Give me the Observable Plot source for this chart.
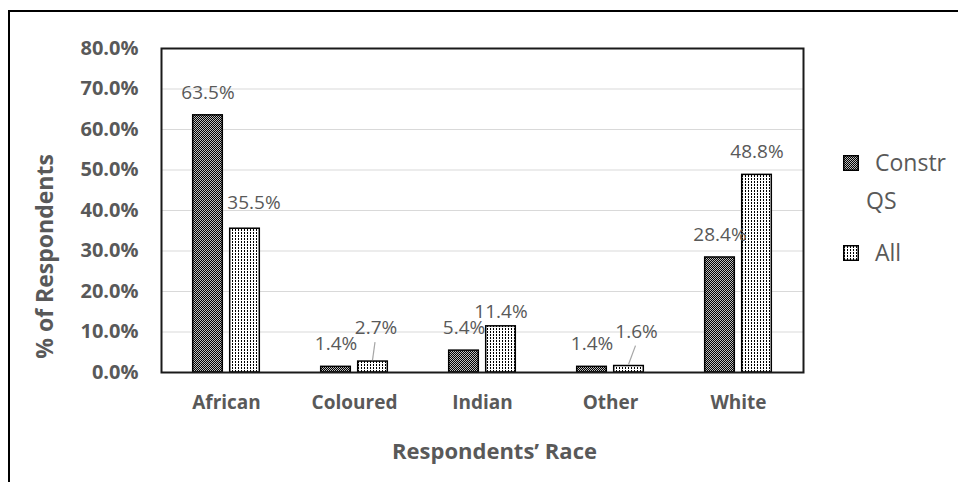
<!DOCTYPE html>
<html>
<head>
<meta charset="utf-8">
<script src="https://cdn.jsdelivr.net/npm/d3@7"></script>
<script src="https://cdn.jsdelivr.net/npm/@observablehq/plot@0.6"></script>
<style>
  html, body { margin: 0; padding: 0; background: #fff; overflow: hidden; }
  #wrap { position: relative; width: 958px; height: 482px; font-family: "Open Sans", sans-serif; }
  #border { position: absolute; left: 8px; top: 10px; width: 1000px; height: 600px; border: 2px solid #000; box-sizing: border-box; }
  #chart { position: absolute; left: 0; top: 0; }
  #legend { position: absolute; left: 843px; top: 143px; color: #595959; font-size: 23px; line-height: 38px; }
  .item { position: relative; padding-left: 23px; }
  .item svg { position: absolute; left: 0; top: 12px; }
  .item .txt { display: block; }
  #defs { position: absolute; left: 0; top: 0; width: 0; height: 0; }
</style>
</head>
<body>
<svg id="defs" width="0" height="0">
  <defs>
    <!-- fine checkerboard fill -->
    <pattern id="patConstr" patternUnits="userSpaceOnUse" width="2" height="2">
      <rect width="2" height="2" fill="#000"/>
      <rect x="0" y="0" width="1" height="1" fill="#bdbdbd"/>
      <rect x="1" y="1" width="1" height="1" fill="#bdbdbd"/>
    </pattern>
    <!-- small dot grid fill -->
    <pattern id="patAll" patternUnits="userSpaceOnUse" width="3" height="3">
      <rect width="3" height="3" fill="#fff"/>
      <rect x="1" y="1" width="1" height="2" fill="#000"/>
    </pattern>
  </defs>
</svg>
<div id="wrap">
  <div id="border"></div>
  <div id="chart"></div>
  <div id="legend"></div>
</div>
<script>
// Survey share of respondents by race
const categories = ["African", "Coloured", "Indian", "Other", "White"];
const constrQS = [63.5, 1.4, 5.4, 1.4, 28.4];
const allResp = [35.5, 2.7, 11.4, 1.6, 48.8];
const seriesNames = ["Constr QS", "All"];
const seriesFills = ["url(#patConstr)", "url(#patAll)"];
const yTicks = [0, 10, 20, 30, 40, 50, 60, 70, 80];

// hand-placed value labels (pixel nudges) and the ones that get a leader line
const labelShift = {
  "African|All": [9, -3],
  "Coloured|All": [3, -11],
  "Indian|All": [0, 8.5],
  "Other|All": [7.5, -12]
};
const leaderLabels = ["Coloured|All", "Other|All"];

const rows = categories.flatMap((c, i) => [
  {category: c, series: seriesNames[0], value: constrQS[i]},
  {category: c, series: seriesNames[1], value: allResp[i]}
]);

// layout
const W = 958, H = 482;
const mL = 161, mR = 155, mT = 48, mB = 110;
const band = (W - mL - mR) / categories.length;
const barW = 30, gap = 7;
const edge = (band - 2 * barW - gap) / 2;
const half = (barW + gap) / 2;
const grey = "#595959";

const barInsets = [
  {insetLeft: edge, insetRight: edge + barW + gap},
  {insetLeft: edge + barW + gap, insetRight: edge}
];

const fmt = v => v.toFixed(1) + "%";

const valueLabels = rows.map(r => {
  const key = r.category + "|" + r.series;
  const [sx, sy] = labelShift[key] || [0, 0];
  const side = r.series === seriesNames[0] ? -half : half;
  return Plot.text([r], {
    x: "category", y: "value", text: d => fmt(d.value),
    dx: side + sx, dy: -22.5 + sy,
    fontSize: 19, fill: grey
  });
});

const plot = Plot.plot({
  width: W, height: H,
  marginLeft: mL, marginRight: mR, marginTop: mT, marginBottom: mB,
  style: {fontFamily: "Open Sans, sans-serif", background: "transparent", overflow: "visible"},
  x: {domain: categories, padding: 0, axis: null},
  y: {domain: [0, 80], axis: null},
  marks: [
    Plot.ruleY(yTicks, {stroke: "#d9d9d9", strokeWidth: 1}),
    ...seriesNames.map((s, k) => Plot.barY(rows.filter(r => r.series === s), {
      x: "category", y: "value", fill: seriesFills[k], stroke: "#000", strokeWidth: 1.5,
      ...barInsets[k]
    })),
    Plot.frame({stroke: "#1a1a1a", strokeWidth: 2}),
    Plot.text(yTicks, {
      y: d => d, text: d => fmt(d), frameAnchor: "left", dx: -23, textAnchor: "end",
      fontSize: 20, fontWeight: "bold", fill: grey
    }),
    Plot.text(categories, {
      x: d => d, text: d => d, frameAnchor: "bottom", dy: 30, lineAnchor: "middle",
      fontSize: 19, fontWeight: "bold", fill: grey
    }),
    ...valueLabels,
    Plot.text(["Respondents\u2019 Race"], {
      text: d => d, frameAnchor: "bottom", dx: 12, dy: 79,
      textAnchor: "middle", lineAnchor: "middle",
      fontSize: 22, fontWeight: "bold", fill: grey
    }),
    Plot.text(["% of Respondents"], {
      text: d => d, frameAnchor: "left", dx: -116, dy: 46, rotate: -90,
      textAnchor: "middle", lineAnchor: "middle",
      fontSize: 23, fontWeight: "bold", fill: grey
    })
  ]
});
document.getElementById("chart").appendChild(plot);

// leader lines from the moved labels down to their bars
const svg = d3.select(plot);
const barGroups = svg.selectAll('g[aria-label="bar"]').nodes();
const pb = plot.getBoundingClientRect();
leaderLabels.forEach(key => {
  const [cat, ser] = key.split("|");
  const k = seriesNames.indexOf(ser);
  const i = categories.indexOf(cat);
  const value = (k === 0 ? constrQS : allResp)[i];
  const t = svg.selectAll("text").filter(function () { return this.textContent === fmt(value); }).node();
  const bar = barGroups[k] ? d3.select(barGroups[k]).selectAll("rect").nodes()[i] : null;
  if (!t || !bar) return;
  const tb = t.getBoundingClientRect();
  const bb = bar.getBoundingClientRect();
  svg.append("line")
    .attr("x1", tb.x + tb.width / 2 - pb.x - 1)
    .attr("y1", tb.y + tb.height - pb.y + 2)
    .attr("x2", bb.x + bb.width / 2 - pb.x)
    .attr("y2", bb.y - pb.y - 1)
    .attr("stroke", "#a6a6a6")
    .attr("stroke-width", 1.2);
});

// legend
const legend = d3.select("#legend");
const legendText = [["Constr", "QS"], ["All"]];
seriesNames.forEach((s, k) => {
  const item = legend.append("div").attr("class", "item").style("margin-top", k ? "14px" : "0");
  const sw = item.append("svg").attr("width", 16).attr("height", 16);
  sw.append("rect").attr("x", 0.75).attr("y", 0.75).attr("width", 14.5).attr("height", 14.5)
    .attr("fill", seriesFills[k]).attr("stroke", "#000").attr("stroke-width", 1.5);
  legendText[k].forEach((line, j) => {
    item.append("span").attr("class", "txt")
      .style("margin-left", (k === 0 && j === 1) ? "0px" : "9px")
      .text(line);
  });
});
</script>
</body>
</html>
